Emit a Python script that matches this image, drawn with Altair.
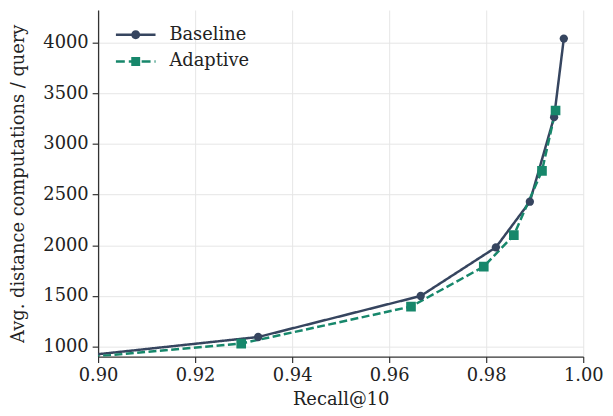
import altair as alt
import pandas as pd

series_names = ["Baseline", "Adaptive"]
series_colors = ["#36455f", "#17876b"]

base_x = [0.88, 0.933, 0.9665, 0.982, 0.989, 0.994, 0.996]
base_y = [822, 1095, 1500, 1980, 2430, 3265, 4040]
adapt_x = [0.88, 0.9295, 0.9645, 0.9795, 0.9857, 0.9915, 0.9943]
adapt_y = [820, 1030, 1395, 1790, 2100, 2735, 3330]

x_ticks = [0.90, 0.92, 0.94, 0.96, 0.98, 1.00]
y_ticks = [1000, 1500, 2000, 2500, 3000, 3500, 4000]

rows = []
for xv, yv in zip(base_x, base_y):
    rows.append({"recall": xv, "dist": yv, "series": "Baseline"})
for xv, yv in zip(adapt_x, adapt_y):
    rows.append({"recall": xv, "dist": yv, "series": "Adaptive"})
df = pd.DataFrame(rows)

FONT = "DejaVu Serif"

xenc = alt.X("recall:Q", title="Recall@10",
             scale=alt.Scale(domain=[0.9, 1.0], nice=False, zero=False),
             axis=alt.Axis(values=x_ticks, format=".2f"))
yenc = alt.Y("dist:Q", title="Avg. distance computations / query",
             scale=alt.Scale(domain=[902, 4322], nice=False, zero=False),
             axis=alt.Axis(values=y_ticks, format="d"))

color_scale = alt.Scale(domain=series_names, range=series_colors)

lines = alt.Chart(df).mark_line(strokeWidth=2.5, clip=True).encode(
    x=xenc, y=yenc,
    color=alt.Color("series:N", scale=color_scale, legend=None),
    strokeDash=alt.StrokeDash("series:N",
                              scale=alt.Scale(domain=series_names, range=[[1, 0], [8, 3.5]]),
                              legend=None),
    order="recall:Q",
)

points = alt.Chart(df).mark_point(filled=True, opacity=1, clip=True).encode(
    x=xenc, y=yenc,
    color=alt.Color("series:N", scale=color_scale, legend=None),
    shape=alt.Shape("series:N", scale=alt.Scale(domain=series_names, range=["circle", "square"]),
                    legend=None),
    size=alt.Size("series:N", scale=alt.Scale(domain=series_names, range=[70, 95]), legend=None),
)

# legend glyphs made only of filled areas: line (thin rectangles) + marker
base_path = ("M-2,-0.125H2V0.125H-2Z"
             "M0.45,0A0.45,0.45 0 1,1 -0.45,0A0.45,0.45 0 1,1 0.45,0Z")
adapt_path = ("M-2,-0.125H-1.1V0.125H-2Z"
              "M-0.7,-0.125H0.2V0.125H-0.7Z"
              "M0.6,-0.125H1.5V0.125H0.6Z"
              "M1.9,-0.125H2V0.125H1.9Z"
              "M-0.45,-0.45H0.45V0.45H-0.45Z")


def legend_layer(name, path, color, ypos):
    return alt.Chart(df).mark_point(filled=True, opacity=1, color=color, fill=color).encode(
        x=xenc, y=yenc,
        shape=alt.Shape(
            "series:N",
            scale=alt.Scale(domain=[name], range=[path]),
            legend=alt.Legend(title=None, orient="none", legendX=28, legendY=ypos,
                              symbolFillColor=color, symbolStrokeColor=color),
        ),
    ).transform_filter("datum.recall > 5")


leg_base = legend_layer(series_names[0], base_path, series_colors[0], 15)
leg_adapt = legend_layer(series_names[1], adapt_path, series_colors[1], 42)

chart = alt.layer(lines, points, leg_base, leg_adapt).resolve_scale(
    shape="independent", color="independent"
).properties(
    width=490, height=350,
    autosize=alt.AutoSizeParams(type="none"),
    padding={"left": 91, "top": 0, "right": 22, "bottom": 58},
).configure_view(stroke=None).configure_axis(
    labelFont=FONT, titleFont=FONT, labelFontSize=18, titleFontSize=18,
    labelColor="#222222", titleColor="#222222", titleFontWeight="normal",
    grid=True, gridColor="#e6e6e6", gridWidth=1,
    domainColor="#333333", domainWidth=1.3, tickColor="#333333", tickSize=6, tickWidth=1.2,
    labelPadding=4,
).configure_axisX(titlePadding=6, labelFlush=False).configure_axisY(
    titlePadding=16, labelFlush=False
).configure_legend(
    labelFont=FONT, labelFontSize=18, labelColor="#222222",
    symbolSize=400, symbolStrokeWidth=0, symbolOpacity=1,
    labelOffset=24, padding=0,
)

chart.save("out.html", embed_options={"renderer": "svg", "actions": False})
